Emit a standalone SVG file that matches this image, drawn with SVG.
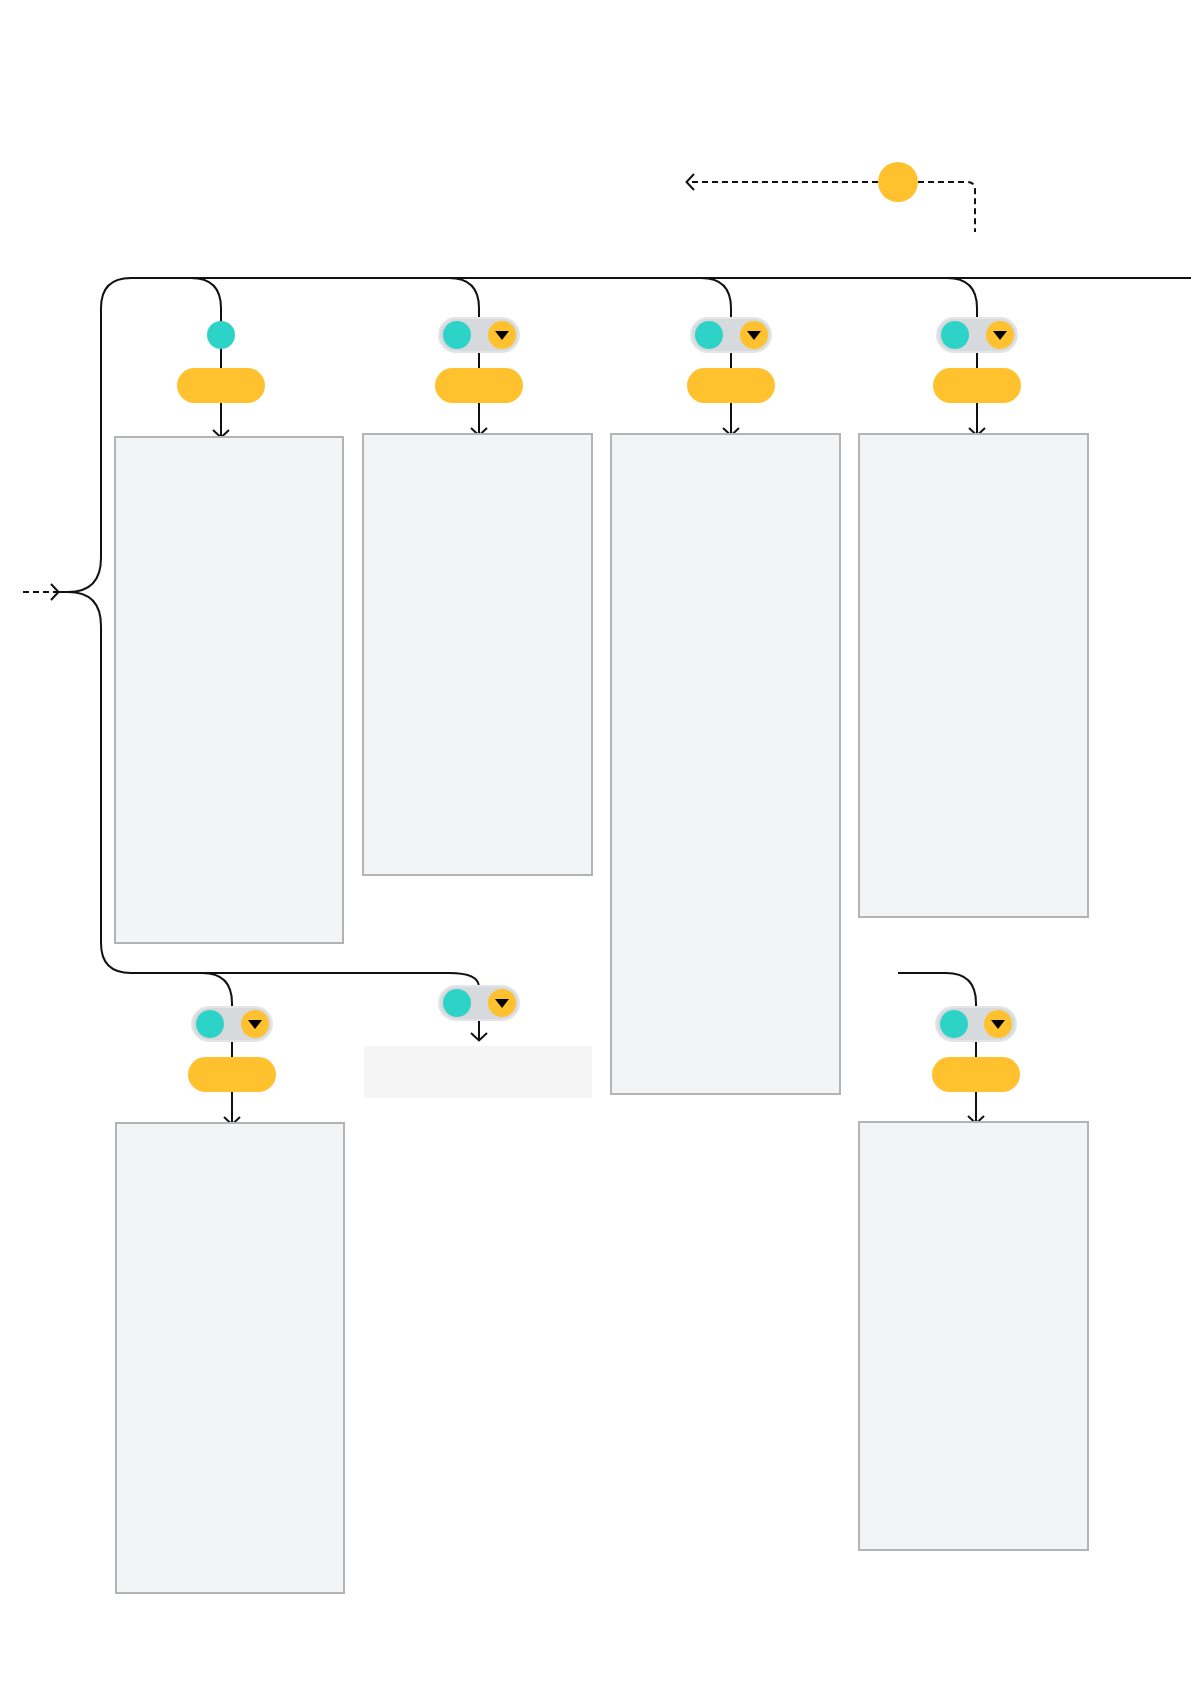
<svg xmlns="http://www.w3.org/2000/svg" width="1191" height="1684" viewBox="0 0 1191 1684">
<style>
.box{fill:#f3f4f5;stroke:#b3b3b3;stroke-width:2}
.ln{fill:none;stroke:#111;stroke-width:2}
.dash{fill:none;stroke:#111;stroke-width:2;stroke-dasharray:6 4}
.pill{fill:#ffc12e}
.tog{fill:#d7dadd;stroke:#e3e5e7;stroke-width:2}
.teal{fill:#2ed3c8}
.yel{fill:#ffc12e}
.tri{fill:#000}
</style>
<defs>
<marker id="arr" viewBox="0 0 16 18" refX="14" refY="9" markerWidth="16" markerHeight="18" markerUnits="userSpaceOnUse" orient="auto">
<path d="M7 1 L14.5 9 L7 17" fill="none" stroke="#111" stroke-width="2"/>
</marker>
</defs>

<g id="connectors">
<path class="dash" d="M878 182 H687" marker-end="url(#arr)"/>
<path class="dash" d="M918 182 H967 Q975 182 975 190 V232"/>
<path class="dash" d="M23 592 H58" marker-end="url(#arr)"/>
<path class="ln" d="M58 592 H68 Q101 592 101 558 V308 Q101 278 131 278 H1191"/>
<path class="ln" d="M68 592 Q101 592 101 626 V943 Q101 973 131 973 H449 Q479 973 479 987"/>
<path class="ln" d="M191 278 Q221 278 221 308 V437" marker-end="url(#arr)"/>
<path class="ln" d="M449 278 Q479 278 479 308 V435" marker-end="url(#arr)"/>
<path class="ln" d="M701 278 Q731 278 731 308 V435" marker-end="url(#arr)"/>
<path class="ln" d="M947 278 Q977 278 977 308 V435" marker-end="url(#arr)"/>
<path class="ln" d="M202 973 Q232 973 232 1003 V1124" marker-end="url(#arr)"/>
<path class="ln" d="M479 1019 V1040" marker-end="url(#arr)"/>
<path class="ln" d="M898 973 H946 Q976 973 976 1003 V1123" marker-end="url(#arr)"/>
</g>

<g id="source"><circle cx="898" cy="182" r="20" class="yel"/></g>

<g id="node1">
<rect class="box" x="115" y="437" width="228" height="506"/>
<circle class="teal" cx="221" cy="335" r="14"/>
<rect class="pill" x="177" y="368" width="88" height="35" rx="17.5"/>
</g>

<g id="node2">
<rect class="box" x="363" y="434" width="229" height="441"/>
<rect class="tog" x="439" y="318" width="80" height="34" rx="17"/>
<circle class="teal" cx="457" cy="335" r="14"/>
<circle class="yel" cx="502" cy="335" r="14"/>
<path class="tri" d="M495 331 H509 L502 340 Z"/>
<rect class="pill" x="435" y="368" width="88" height="35" rx="17.5"/>
</g>

<g id="node3">
<rect class="box" x="611" y="434" width="229" height="660"/>
<rect class="tog" x="691" y="318" width="80" height="34" rx="17"/>
<circle class="teal" cx="709" cy="335" r="14"/>
<circle class="yel" cx="754" cy="335" r="14"/>
<path class="tri" d="M747 331 H761 L754 340 Z"/>
<rect class="pill" x="687" y="368" width="88" height="35" rx="17.5"/>
</g>

<g id="node4">
<rect class="box" x="859" y="434" width="229" height="483"/>
<rect class="tog" x="937" y="318" width="80" height="34" rx="17"/>
<circle class="teal" cx="955" cy="335" r="14"/>
<circle class="yel" cx="1000" cy="335" r="14"/>
<path class="tri" d="M993 331 H1007 L1000 340 Z"/>
<rect class="pill" x="933" y="368" width="88" height="35" rx="17.5"/>
</g>

<g id="node5">
<rect class="box" x="116" y="1123" width="228" height="470"/>
<rect class="tog" x="192" y="1007" width="80" height="34" rx="17"/>
<circle class="teal" cx="210" cy="1024" r="14"/>
<circle class="yel" cx="255" cy="1024" r="14"/>
<path class="tri" d="M248 1020 H262 L255 1029 Z"/>
<rect class="pill" x="188" y="1057" width="88" height="35" rx="17.5"/>
</g>

<g id="node6">
<rect x="364" y="1046" width="228" height="52" fill="#f5f5f5"/>
<rect class="tog" x="439" y="986" width="80" height="34" rx="17"/>
<circle class="teal" cx="457" cy="1003" r="14"/>
<circle class="yel" cx="502" cy="1003" r="14"/>
<path class="tri" d="M495 999 H509 L502 1008 Z"/>
</g>

<g id="node7">
<rect class="box" x="859" y="1122" width="229" height="428"/>
<rect class="tog" x="936" y="1007" width="80" height="34" rx="17"/>
<circle class="teal" cx="954" cy="1024" r="14"/>
<circle class="yel" cx="998" cy="1024" r="14"/>
<path class="tri" d="M991 1020 H1005 L998 1029 Z"/>
<rect class="pill" x="932" y="1057" width="88" height="35" rx="17.5"/>
</g>
</svg>
